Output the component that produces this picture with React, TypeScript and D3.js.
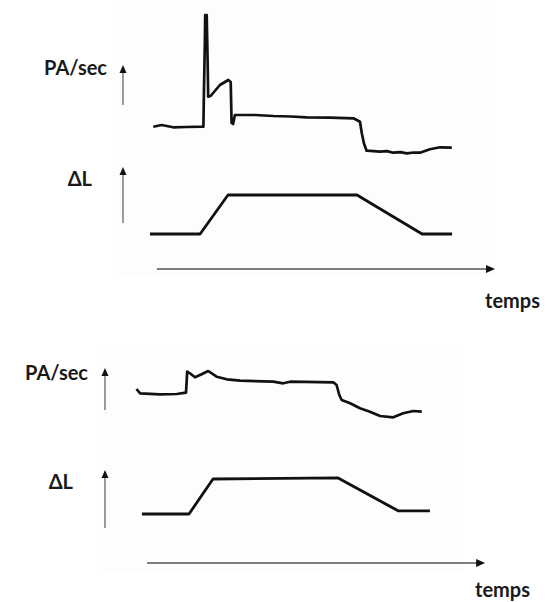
import React, { useEffect, useRef } from "react";
import * as d3 from "d3";

const W = 554;
const H = 602;

// top recording (time in s, firing rate in PA/sec, stretch in arbitrary units)
const paTopT = [0.11, 0.39, 0.77, 1.2, 1.78, 1.8, 1.83, 1.84, 1.89, 1.92, 1.94, 2.02, 2.33, 2.61, 2.69, 2.72, 2.77, 2.83, 2.89, 3.5, 4.11, 4.7, 5.22, 6.0, 6.78, 7.0, 7.06, 7.13, 7.22, 7.45, 7.67, 7.9, 8.11, 8.35, 8.56, 8.8, 9.0, 9.33, 9.67, 10.06];
const paTopV = [33.3, 35, 32.7, 33, 33.3, 72, 120, 145, 145, 100, 63.3, 64, 75, 80, 78, 37, 36, 45, 45, 45, 44, 43.5, 42.7, 42.3, 41.7, 38.3, 26.7, 16.7, 9.3, 8.8, 8.3, 8.9, 7.3, 7.9, 6.7, 7.5, 7.3, 10.7, 12.7, 12.3];
const dlTopT = [0, 1.67, 2.6, 6.9, 9.07, 10.07];
const dlTopV = [0, 0, 1, 1, 0, 0];

// bottom recording
const paBotT = [0.05, 0.17, 0.83, 1.39, 1.7, 1.74, 1.83, 2.0, 2.22, 2.44, 2.72, 3.06, 3.5, 4.61, 4.94, 5.17, 6.61, 6.72, 6.81, 6.89, 7.17, 7.5, 7.83, 8.17, 8.61, 8.94, 9.28, 9.56];
const paBotV = [37, 32.7, 31.7, 32, 33.3, 54.3, 52.7, 48.7, 51.7, 55, 49.3, 46.7, 45.3, 44.3, 42.7, 44.3, 43.7, 41, 31, 26, 22.7, 17.7, 14.3, 10, 8.7, 12.7, 15, 14.3];
const dlBotT = [0.23, 1.8, 2.6, 6.77, 8.77, 9.83];
const dlBotV = [0, 0, 1, 1.03, 0.09, 0.09];

const panels = [
  {
    paT: paTopT, paV: paTopV, dlT: dlTopT, dlV: dlTopV,
    xRange: [150, 450], paRange: [160, 10], dlRange: [234, 195],
    timeExtent: [0.23, 11.5], timeY: 269,
    arrowX: 123, paArrow: [105, 65], dlArrow: [223, 167],
    paLabel: { x: 107, y: 75 }, dlLabel: { x: 92, y: 186 }, tempsLabel: { x: 540, y: 308 },
    bg: [113, 0, 382, 277],
  },
  {
    paT: paBotT, paV: paBotV, dlT: dlBotT, dlV: dlBotV,
    xRange: [135, 435], paRange: [426, 276], dlRange: [514, 479],
    timeExtent: [0.4, 11.67], timeY: 563,
    arrowX: 105, paArrow: [410, 368], dlArrow: [528, 470],
    paLabel: { x: 88, y: 380 }, dlLabel: { x: 73, y: 489 }, tempsLabel: { x: 530, y: 597 },
    bg: [102, 345, 361, 227],
  },
];

function App() {
  const ref = useRef<SVGSVGElement | null>(null);

  useEffect(() => {
    const svg = d3.select(ref.current);
    svg.selectAll("*").remove();

    svg.append("rect").attr("width", W).attr("height", H).attr("fill", "#ffffff");

    panels.forEach((p) => {
      const x = d3.scaleLinear().domain([0, 10]).range(p.xRange);
      const yPa = d3.scaleLinear().domain([0, 150]).range(p.paRange);
      const yDl = d3.scaleLinear().domain([0, 1]).range(p.dlRange);

      // faint scanned panel background
      svg.append("rect")
        .attr("x", p.bg[0]).attr("y", p.bg[1])
        .attr("width", p.bg[2]).attr("height", p.bg[3])
        .attr("fill", "#fdfdfd");

      const g = svg.append("g");

      const paLine = d3.line<number>().x((d, i) => x(p.paT[i])).y((d) => yPa(d));
      const dlLine = d3.line<number>().x((d, i) => x(p.dlT[i])).y((d) => yDl(d));

      g.append("path")
        .attr("d", paLine(p.paV))
        .attr("fill", "none")
        .attr("stroke", "#111")
        .attr("stroke-width", 2.7)
        .attr("stroke-linejoin", "round");

      g.append("path")
        .attr("d", dlLine(p.dlV))
        .attr("fill", "none")
        .attr("stroke", "#111")
        .attr("stroke-width", 2.8)
        .attr("stroke-linejoin", "round");

      // time axis arrow
      const x0 = x(p.timeExtent[0]);
      const x1 = x(p.timeExtent[1]);
      g.append("line")
        .attr("x1", x0).attr("x2", x1 - 6)
        .attr("y1", p.timeY).attr("y2", p.timeY)
        .attr("stroke", "#555").attr("stroke-width", 1.5);
      g.append("path")
        .attr("d", `M${x1},${p.timeY} L${x1 - 9},${p.timeY - 4} L${x1 - 9},${p.timeY + 4} Z`)
        .attr("fill", "#111");

      // vertical arrows
      [p.paArrow, p.dlArrow].forEach(([yb, yt]) => {
        g.append("line")
          .attr("x1", p.arrowX).attr("x2", p.arrowX)
          .attr("y1", yb).attr("y2", yt + 6)
          .attr("stroke", "#666").attr("stroke-width", 1.3);
        g.append("path")
          .attr("d", `M${p.arrowX},${yt} L${p.arrowX - 3.5},${yt + 8} L${p.arrowX + 3.5},${yt + 8} Z`)
          .attr("fill", "#111");
      });

      const label = (pos: { x: number; y: number }, txt: string) =>
        g.append("text")
          .attr("x", pos.x).attr("y", pos.y)
          .attr("text-anchor", "end")
          .attr("font-family", "Lato, 'Open Sans', sans-serif")
          .attr("font-weight", "bold")
          .attr("font-size", 20)
          .attr("fill", "#1a1a1a")
          .text(txt);

      label(p.paLabel, "PA/sec");
      label(p.dlLabel, "ΔL");
      label(p.tempsLabel, "temps");
    });
  }, []);

  return (
    <svg
      ref={ref}
      width={W}
      height={H}
      style={{ position: "absolute", left: 0, top: 0, display: "block" }}
    />
  );
}

export default App;
